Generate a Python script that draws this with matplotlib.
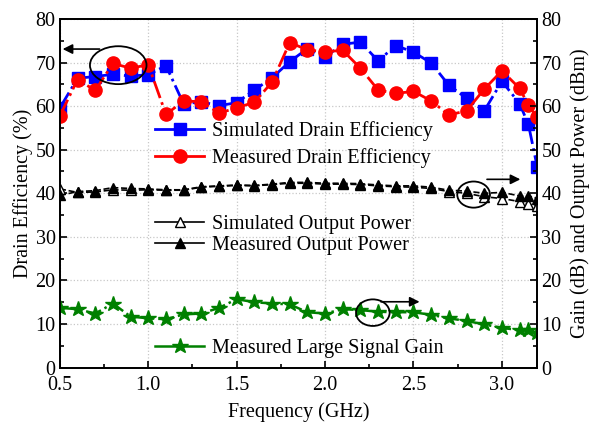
import matplotlib
matplotlib.use('Agg')
import matplotlib.pyplot as plt
from matplotlib.lines import Line2D
from matplotlib.patches import Ellipse
from matplotlib.ticker import MultipleLocator

plt.rcParams['font.family'] = ['Liberation Serif', 'DejaVu Serif']
plt.rcParams['font.size'] = 14.5

# frequency points (GHz)
freq = [0.5, 0.6, 0.7, 0.8, 0.9, 1.0, 1.1, 1.2, 1.3, 1.4, 1.5, 1.6, 1.7, 1.8,
        1.9, 2.0, 2.1, 2.2, 2.3, 2.4, 2.5, 2.6, 2.7, 2.8, 2.9, 3.0, 3.1, 3.15, 3.2]

# drain efficiency (%)
sim_de = [59.6, 66.4, 66.8, 67.3, 66.9, 67.2, 69.3, 60.5, 61.0, 60.1, 60.8, 63.7, 66.5, 70.2,
          73.2, 71.3, 74.2, 74.7, 70.4, 73.9, 72.4, 69.9, 64.8, 61.8, 58.9, 65.7, 60.6, 55.8, 46.0]
meas_de = [57.8, 66.1, 63.6, 69.8, 68.7, 69.5, 58.1, 61.2, 61.0, 58.4, 59.6, 60.9, 65.5, 74.6,
           72.9, 72.5, 72.8, 68.7, 63.7, 62.9, 63.4, 61.2, 58.0, 58.9, 63.9, 68.1, 64.1, 60.2, 57.4]

# output power (dBm)
sim_pout = [41.0, 40.2, 40.3, 40.8, 40.7, 40.8, 40.7, 40.7, 41.4, 41.6, 41.8, 41.7, 42.0, 42.3,
            42.3, 42.1, 42.1, 42.0, 41.7, 41.5, 41.4, 41.1, 40.4, 40.0, 39.2, 38.8, 38.1, 37.5, 37.1]
meas_pout = [39.5, 40.4, 40.6, 41.3, 41.1, 41.0, 40.8, 40.8, 41.5, 41.7, 41.9, 41.8, 42.1, 42.5,
             42.5, 42.3, 42.3, 42.2, 41.9, 41.7, 41.7, 41.4, 40.7, 40.5, 40.0, 40.2, 39.4, 39.4, 38.8]

# large signal gain (dB)
gain = [13.7, 13.4, 12.4, 14.7, 11.7, 11.3, 11.1, 12.2, 12.4, 13.7, 15.7, 15.0, 14.7, 14.5,
        12.7, 12.4, 13.4, 13.2, 12.8, 12.7, 12.7, 12.1, 11.3, 10.7, 9.9, 9.1, 8.6, 8.6, 7.9]

fig = plt.figure(figsize=(5.93, 4.22), dpi=100)
ax = fig.add_axes([0.101, 0.129, 0.805, 0.826])
ax2 = ax.twinx()

ax.plot(freq, sim_de, color='blue', ls='-.', lw=2, marker='s', ms=8, zorder=3)
ax.plot(freq, meas_de, color='red', ls='-.', lw=2, marker='o', ms=9.5, zorder=3)

ax2.plot(freq, sim_pout, color='black', ls='--', lw=1.2, marker='^', ms=7.5,
         markerfacecolor='white', markeredgecolor='black')
ax2.plot(freq, meas_pout, color='black', ls='--', lw=1.2, marker='^', ms=7.5)
ax2.plot(freq, gain, color='green', ls='-.', lw=1.8, marker='*', ms=11.5)

for a in (ax, ax2):
    a.set_xlim(0.5, 3.2)
    a.set_ylim(0, 80)
    a.yaxis.set_major_locator(MultipleLocator(10))
    a.yaxis.set_minor_locator(MultipleLocator(5))
    a.tick_params(which='both', direction='in', width=1.2, pad=3)
    a.tick_params(which='major', length=5)
    a.tick_params(which='minor', length=3)
    for s in a.spines.values():
        s.set_linewidth(1.3)

ax.xaxis.set_major_locator(MultipleLocator(0.5))
ax.xaxis.set_minor_locator(MultipleLocator(0.25))
ax.tick_params(axis='x', pad=6)
ax.grid(True, which='major', ls=':', color='#c8c8c8', lw=0.9)
ax.set_axisbelow(True)
ax.tick_params(axis='x', top=False, which='both')

ax.set_xlabel('Frequency (GHz)', labelpad=5)
ax.set_ylabel('Drain Efficiency (%)', labelpad=2)
ax2.set_ylabel('Gain (dB) and Output Power (dBm)', labelpad=6)

# annotation ellipses and arrows
ax.add_patch(Ellipse((0.83, 69.4), 0.32, 8.7, fill=False, ec='black', lw=1.3, zorder=4))
ax.annotate('', xy=(0.5, 73.1), xytext=(0.74, 73.1),
            arrowprops=dict(arrowstyle='-|>', color='black', lw=1.2))
ax2.add_patch(Ellipse((2.84, 39.7), 0.185, 6.0, fill=False, ec='black', lw=1.3, zorder=4))
ax2.annotate('', xy=(3.12, 43.2), xytext=(2.9, 43.2),
             arrowprops=dict(arrowstyle='-|>', color='black', lw=1.2))
ax2.add_patch(Ellipse((2.27, 12.6), 0.19, 6.1, fill=False, ec='black', lw=1.3, zorder=4))
ax2.annotate('', xy=(2.55, 15.1), xytext=(2.3, 15.1),
             arrowprops=dict(arrowstyle='-|>', color='black', lw=1.2))

# legends (solid handles, no frame)
h_de = [Line2D([], [], color='blue', lw=2, marker='s', ms=8),
        Line2D([], [], color='red', lw=2, marker='o', ms=9.5)]
h_po = [Line2D([], [], color='black', lw=1.2, marker='^', ms=7.5,
               markerfacecolor='white', markeredgecolor='black'),
        Line2D([], [], color='black', lw=1.2, marker='^', ms=7.5)]
h_g = [Line2D([], [], color='green', lw=1.8, marker='*', ms=11.5)]

common = dict(frameon=False, loc='center left', borderpad=0, borderaxespad=0,
              handlelength=2.4, handletextpad=0.4, fontsize=14.5)
leg1 = ax2.legend(h_de, ['Simulated Drain Efficiency', 'Measured Drain Efficiency'],
                  bbox_to_anchor=(0.2, 0.641), labelspacing=0.35, **common)
ax2.add_artist(leg1)
leg2 = ax2.legend(h_po, ['Simulated Output Power', 'Measured Output Power'],
                  bbox_to_anchor=(0.2, 0.381), labelspacing=0.1, **common)
ax2.add_artist(leg2)
ax2.legend(h_g, ['Measured Large Signal Gain'],
           bbox_to_anchor=(0.2, 0.056), **common)

plt.savefig('out.png', dpi=100)
